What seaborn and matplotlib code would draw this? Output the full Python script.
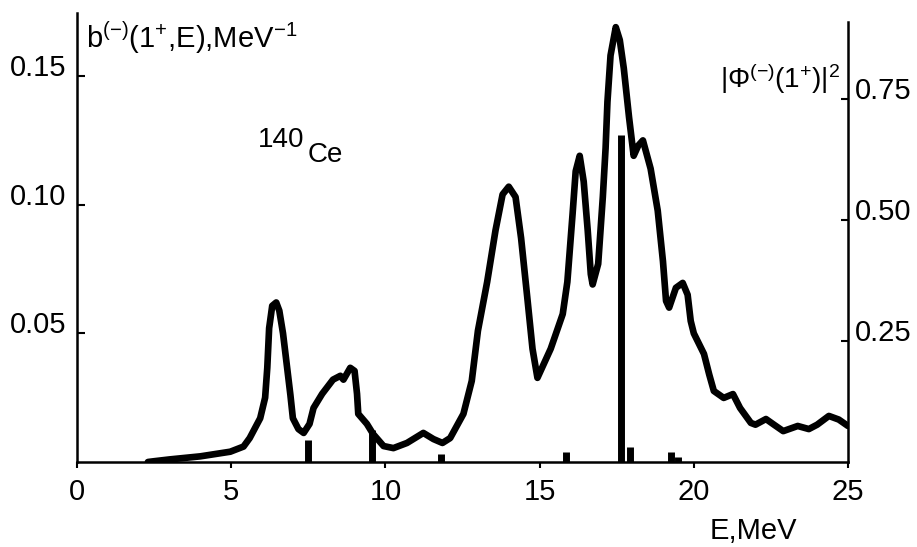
import numpy as np
import pandas as pd
import matplotlib
matplotlib.use("Agg")
import matplotlib.pyplot as plt
import seaborn as sns

# strength function b(-)(1+,E), MeV^-1 (left axis)
energy = [2.3, 2.5, 3.0, 4.0, 4.97, 5.4, 5.6, 5.94, 6.1, 6.17, 6.23, 6.33, 6.46, 6.56,
          6.68, 6.8, 6.92, 7.0, 7.18, 7.35, 7.54, 7.67, 7.95, 8.3, 8.54, 8.64, 8.86, 9.0,
          9.08, 9.12, 9.4, 9.6, 9.94, 10.26, 10.7, 11.23, 11.56, 11.85, 12.1, 12.53, 12.8,
          13.0, 13.3, 13.57, 13.8, 14.0, 14.22, 14.4, 14.6, 14.77, 14.93, 15.36, 15.75,
          15.9, 16.07, 16.17, 16.3, 16.43, 16.56, 16.66, 16.72, 16.9, 17.05, 17.14, 17.2,
          17.3, 17.47, 17.6, 17.73, 17.9, 18.05, 18.2, 18.35, 18.6, 18.83, 19.0, 19.1,
          19.2, 19.42, 19.64, 19.8, 19.9, 20.0, 20.33, 20.5, 20.65, 20.97, 21.27, 21.5,
          21.85, 22.0, 22.34, 22.6, 22.9, 23.37, 23.73, 24.0, 24.38, 24.7, 25.0]
b_strength = [0.0, 0.0003, 0.0010, 0.0022, 0.0040, 0.0060, 0.0093, 0.0170, 0.0250, 0.0366,
              0.0520, 0.0607, 0.0620, 0.0588, 0.0500, 0.0380, 0.0260, 0.0170, 0.0128, 0.0113,
              0.0148, 0.0210, 0.0265, 0.0320, 0.0335, 0.0320, 0.0366, 0.0354, 0.0265, 0.0187,
              0.0148, 0.0109, 0.0062, 0.0054, 0.0074, 0.0113, 0.0089, 0.0074, 0.0093, 0.0187,
              0.0315, 0.0510, 0.0700, 0.0900, 0.1040, 0.1070, 0.1030, 0.0870, 0.0640, 0.0440,
              0.0327, 0.0440, 0.0575, 0.0700, 0.0965, 0.1130, 0.1190, 0.1090, 0.0900, 0.0730,
              0.0690, 0.0770, 0.1030, 0.1220, 0.1400, 0.1580, 0.1690, 0.1640, 0.1530, 0.1340,
              0.1190, 0.1230, 0.1250, 0.1140, 0.0977, 0.0780, 0.0626, 0.0600, 0.0677, 0.0696,
              0.0650, 0.0548, 0.0500, 0.0420, 0.0340, 0.0276, 0.0249, 0.0264, 0.0210, 0.0152,
              0.0145, 0.0167, 0.0145, 0.0120, 0.0140, 0.0128, 0.0145, 0.0179, 0.0165, 0.0140]

# |Phi(-)(1+)|^2 of individual states (right axis)
state_energy = [7.5, 9.55, 11.8, 15.85, 17.63, 17.92, 19.25, 19.5]
phi_sq = [0.045, 0.066, 0.017, 0.021, 0.675, 0.031, 0.021, 0.010]

x_ticks = [0, 5, 10, 15, 20, 25]
left_ticks = [0.05, 0.10, 0.15]
left_labels = ["0.05", "0.10", "0.15"]
right_ticks = [0.25, 0.50, 0.75]
right_labels = ["0.25", "0.50", "0.75"]

sns.set_theme(style="ticks")
plt.rcParams['font.family'] = ['Liberation Sans', 'DejaVu Sans']
plt.rcParams['mathtext.fontset'] = 'custom'
plt.rcParams['mathtext.rm'] = 'Liberation Sans'
plt.rcParams['mathtext.default'] = 'regular'
plt.rcParams['text.color'] = 'black'

W, H = 917, 547
fig = plt.figure(figsize=(W / 100, H / 100), dpi=100)
ax = fig.add_axes([77 / W, 85 / H, 771 / W, 449 / H])

df = pd.DataFrame({"E": energy, "b": b_strength})
sns.lineplot(data=df, x="E", y="b", ax=ax, color="black", lw=4.8,
             solid_joinstyle="round", solid_capstyle="round")

ax2 = ax.twinx()
ax2.vlines(state_energy, 0, phi_sq, color="black", lw=5)

ax.set_xlim(0, 25)
ax.set_ylim(0, 0.1745)
ax2.set_ylim(0, 0.928)
ax.set_xlabel("")
ax.set_ylabel("")

for a in (ax, ax2):
    a.spines["top"].set_visible(False)
    for s in a.spines.values():
        s.set_linewidth(1.8)
        s.set_color("black")
ax.spines["right"].set_visible(False)
ax2.spines["left"].set_visible(False)
ax2.spines["bottom"].set_visible(False)
ax2.spines["right"].set_bounds(0, 0.909)

ax.set_xticks(x_ticks)
ax.set_xticklabels([str(t) for t in x_ticks])
ax.set_yticks(left_ticks)
ax.set_yticklabels(left_labels)
ax2.set_yticks(right_ticks)
ax2.set_yticklabels(right_labels)

ax.tick_params(axis="x", direction="out", length=4, width=1.5, pad=7.5, labelsize=21, colors="black")
ax.tick_params(axis="y", direction="in", length=6, width=1.5, pad=8, labelsize=21, colors="black")
ax2.tick_params(axis="y", direction="in", length=5, width=1.5, pad=5, labelsize=21, colors="black")
for lbl in ax.get_yticklabels() + ax2.get_yticklabels():
    lbl.set_va("baseline")

# labels
fig.text(86 / W, 1 - 48 / H, "b$^{(-)}$(1$^{+}$,E),MeV$^{-1}$", fontsize=21, va="baseline", ha="left")
fig.text(840 / W, 1 - 88 / H, "|Φ$^{(-)}$(1$^{+}$)|$^{2}$", fontsize=20, va="baseline", ha="right")
fig.text(258 / W, 1 - 147 / H, "140", fontsize=20, va="baseline", ha="left")
fig.text(308 / W, 1 - 162 / H, "Ce", fontsize=20, va="baseline", ha="left")
fig.text(710 / W, 1 - 539 / H, "E,MeV", fontsize=21, va="baseline", ha="left")

fig.savefig("out.png", dpi=100, facecolor="white")
